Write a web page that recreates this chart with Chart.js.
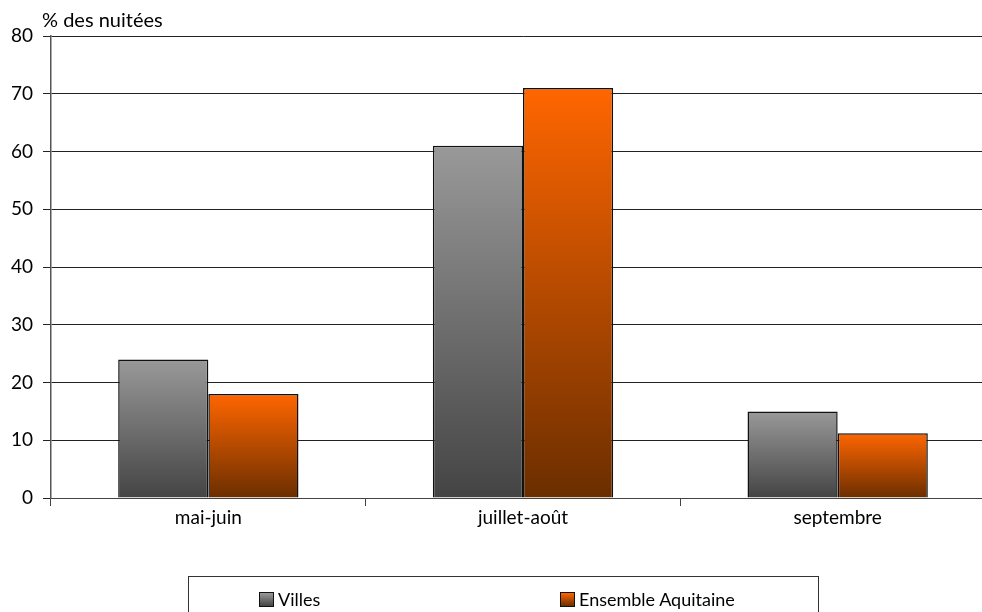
<!DOCTYPE html>
<html>
<head>
<meta charset="utf-8">
<script src="https://cdn.jsdelivr.net/npm/chart.js"></script>
<style>
    html, body { margin: 0; padding: 0; background: #fff; }
    #wrap { position: relative; width: 982px; height: 612px; overflow: hidden; }
    #legend {
        position: absolute; left: 188px; top: 576px; width: 631px; height: 40px;
        border: 1px solid #333; box-sizing: border-box;
        font-family: Lato, sans-serif; font-size: 18px; color: #000;
    }
    .item { position: absolute; top: 13px; white-space: nowrap; line-height: 18px; }
    .swatch { display: inline-block; width: 13px; height: 13px; border: 1px solid #111; vertical-align: -1px; margin-right: 4px; }
</style>
</head>
<body>
<div id="wrap">
    <canvas id="chart" width="995" height="612"></canvas>
    <div id="legend">
        <div class="item" style="left:70px"><span class="swatch" style="background:linear-gradient(#999,#444)"></span>Villes</div>
        <div class="item" style="left:371px"><span class="swatch" style="background:linear-gradient(#ff6600,#6b2e00)"></span>Ensemble Aquitaine</div>
    </div>
</div>
<script>
// Chart data
const categories = ['mai-juin', 'juillet-août', 'septembre'];
const villes = [24, 61, 15];
const aquitaine = [18, 71, 11.2];
const yTicks = [0, 10, 20, 30, 40, 50, 60, 70, 80];

/**
 * Vertical gradient that runs from the top of each bar to its base
 */
function barGradient(topColor, bottomColor) {
    return function(context) {
        const chart = context.chart;
        const yScale = chart.scales.y;
        if (!chart.chartArea || !yScale || context.raw === undefined) return topColor;
        const top = yScale.getPixelForValue(context.raw);
        const base = yScale.getPixelForValue(0);
        const g = chart.ctx.createLinearGradient(0, top, 0, base);
        g.addColorStop(0, topColor);
        g.addColorStop(1, bottomColor);
        return g;
    };
}

// Axis title drawn above the y axis
const axisTitle = {
    id: 'axisTitle',
    afterDraw(chart) {
        const ctx = chart.ctx;
        ctx.save();
        ctx.font = '20px Lato, sans-serif';
        ctx.fillStyle = '#000';
        ctx.textBaseline = 'alphabetic';
        ctx.fillText('% des nuitées', 42, 27);
        ctx.restore();
    }
};

new Chart(document.getElementById('chart'), {
    type: 'bar',
    data: {
        labels: categories,
        datasets: [{
            label: 'Villes',
            data: villes,
            backgroundColor: barGradient('#999999', '#444444'),
            borderColor: '#111',
            borderWidth: 1.5
        }, {
            label: 'Ensemble Aquitaine',
            data: aquitaine,
            backgroundColor: barGradient('#ff6600', '#6b2e00'),
            borderColor: '#111',
            borderWidth: 1.5
        }]
    },
    options: {
        responsive: false,
        animation: false,
        layout: { padding: { top: 36, right: 0, left: 0, bottom: 0 } },
        categoryPercentage: 0.573,
        barPercentage: 1,
        plugins: {
            legend: { display: false },
            tooltip: { enabled: false }
        },
        scales: {
            x: {
                grid: { offset: true, drawOnChartArea: false, color: '#444', tickLength: 8 },
                border: { color: '#444' },
                ticks: { color: '#000', font: { family: 'Lato', size: 19 }, padding: 0 },
                afterFit: s => { s.height = 114; }
            },
            y: {
                min: 0,
                max: 80,
                afterBuildTicks: s => { s.ticks = yTicks.map(v => ({ value: v })); },
                grid: { color: '#222', tickLength: 8 },
                border: { color: '#555', width: 1.5 },
                ticks: { color: '#000', font: { family: 'Lato', size: 19 }, padding: 10 },
                afterFit: s => { s.width = 51; }
            }
        }
    },
    plugins: [axisTitle]
});
</script>
</body>
</html>
